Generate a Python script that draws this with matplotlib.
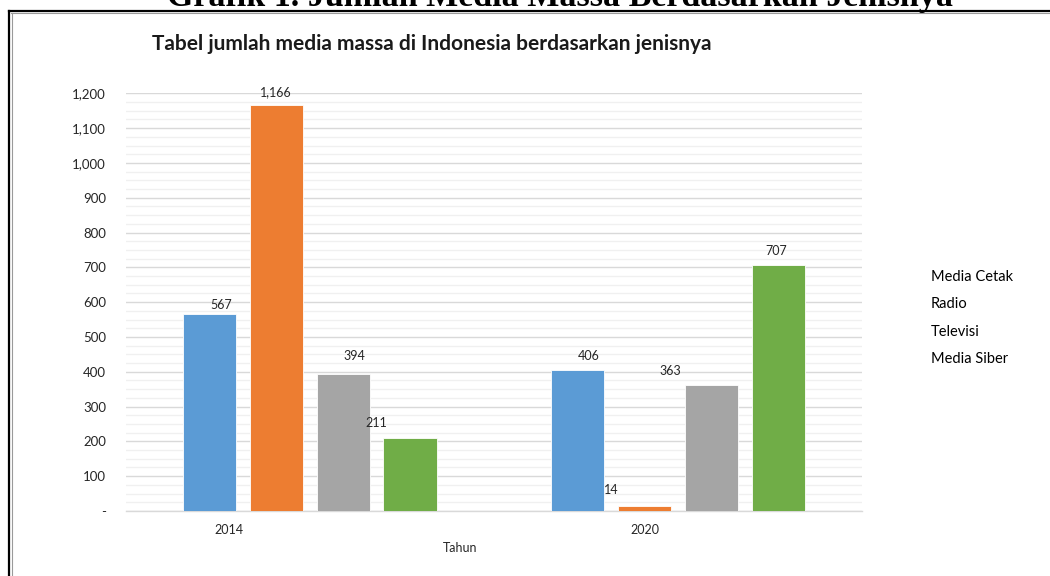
import numpy as np
import matplotlib.pyplot as plt
from matplotlib.lines import Line2D
from matplotlib.ticker import FuncFormatter, MultipleLocator

# data
tahun = ["2014", "2020"]
jenis = ["Media Cetak", "Radio", "Televisi", "Media Siber"]
nilai = {
    "Media Cetak": [567, 406],
    "Radio": [1166, 14],
    "Televisi": [394, 363],
    "Media Siber": [211, 707],
}
warna = ["#5B9BD5", "#ED7D31", "#A5A5A5", "#70AD47"]

# label positions were moved by hand in the original (pixel offsets: dx, dy)
geser_label = {
    "Media Cetak": [(12, 9), (11, 14)],
    "Radio": [(0, 13), (-33, 16)],
    "Televisi": [(11, 18), (-41, 14)],
    "Media Siber": [(-34, 15), (-2, 14)],
}

plt.rcParams["font.family"] = ["Lato", "DejaVu Sans"]

fig = plt.figure(figsize=(10.5, 5.76), dpi=100)
W, H = 1050, 576
# axes box in pixels: left 125.5, right 862.2, top 93.3, bottom 511
ax = fig.add_axes([125.5 / W, 1 - 511 / H, (862.2 - 125.5) / W, (511 - 93.3) / H])

x = np.arange(len(tahun))
lebar = 0.144
jarak = 0.1816
for i, j in enumerate(jenis):
    pos = x + (i - 1.5) * jarak
    bars = ax.bar(pos, nilai[j], width=lebar, color=warna[i], edgecolor="white",
                  linewidth=0.6, label=j, zorder=3)
    for b, v, (dx, dy) in zip(bars, nilai[j], geser_label[j]):
        ax.annotate(f"{v:,}", (b.get_x() + b.get_width() / 2, v),
                    xytext=(dx, dy), textcoords="offset pixels",
                    ha="center", va="center", fontsize=9, color="#262626")

ax.set_xlim(-0.5, 1.5)
ax.set_ylim(0, 1200)
ax.yaxis.set_major_locator(MultipleLocator(100))
ax.yaxis.set_minor_locator(MultipleLocator(25))
ax.yaxis.set_major_formatter(FuncFormatter(lambda v, p: "-" if v == 0 else f"{v:,.0f}"))
ax.grid(axis="y", which="major", color="#D9D9D9", linewidth=1, zorder=0)
ax.grid(axis="y", which="minor", color="#F0F0F0", linewidth=1, zorder=0)

ax.set_xticks(x + np.array([-0.219, -0.09]))
ax.set_xticklabels(tahun)
ax.tick_params(axis="x", length=0, pad=9, labelsize=9, labelcolor="#262626")
ax.tick_params(axis="y", which="both", length=0, pad=14, labelsize=9.5, labelcolor="#262626")

for s in ["top", "right", "left"]:
    ax.spines[s].set_visible(False)
ax.spines["bottom"].set_color("#D9D9D9")
ax.spines["bottom"].set_linewidth(1)

ax.set_xlabel("Tahun", fontsize=9, color="#262626")
ax.xaxis.set_label_coords((460 - 125.5) / (862.2 - 125.5), -(547.7 - 511) / (511 - 93.3))
ax.xaxis.label.set_va("center")

fig.text(432 / W, 1 - 44 / H, "Tabel jumlah media massa di Indonesia berdasarkan jenisnya",
         ha="center", va="center", fontsize=15, fontweight="bold", color="#1a1a1a")

# legend: text only, keys hidden
leg = ax.legend(loc="upper left", bbox_to_anchor=(925 / W, 1 - 264 / H),
                bbox_transform=fig.transFigure, frameon=False, fontsize=10.5,
                handlelength=0, handletextpad=0, labelspacing=0.92, borderaxespad=0)
for h in leg.legend_handles:
    h.set_visible(False)

# heading of the page, cut off at the top
fig.text(560 / W, 1 - 6 / H, "Grafik 1. Jumlah Media Massa Berdasarkan Jenisnya",
         ha="center", va="baseline", fontsize=24.5, fontweight="bold",
         family="Liberation Serif", color="black")

# page frame (double line at top and left)
fig.add_artist(Line2D([9.3 / W, 1], [1 - 11 / H, 1 - 11 / H], color="black", lw=1.6))
fig.add_artist(Line2D([11 / W, 1], [1 - 13 / H, 1 - 13 / H], color="#9a9a9a", lw=0.8))
fig.add_artist(Line2D([9.3 / W, 9.3 / W], [0, 1 - 11 / H], color="black", lw=1.6))
fig.add_artist(Line2D([11.5 / W, 11.5 / W], [0, 1 - 13 / H], color="#9a9a9a", lw=0.8))

fig.savefig("out.png", dpi=100)
